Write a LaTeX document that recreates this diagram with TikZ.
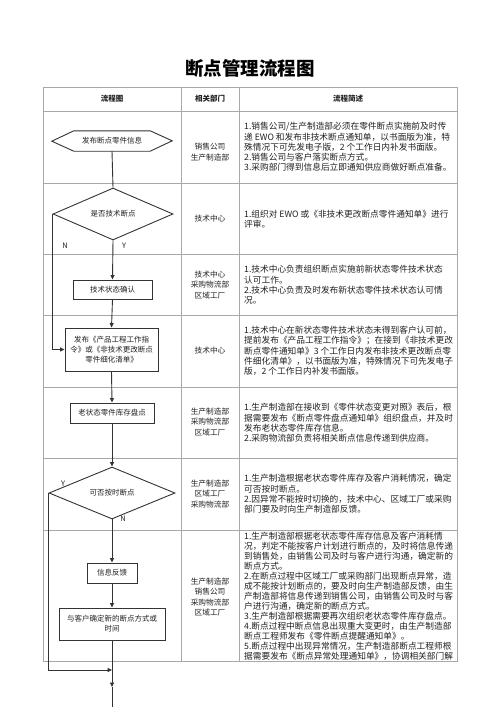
\documentclass[tikz,border=0pt]{standalone}
\usepackage{fontspec}
\setmainfont{Noto Sans CJK SC}
\usetikzlibrary{shapes.geometric,arrows.meta}
\definecolor{tblgray}{HTML}{A8A8A8}
\definecolor{flowc}{HTML}{333333}
\definecolor{txt}{HTML}{222222}
\begin{document}
\begin{tikzpicture}[x=1pt,y=-1pt,
 grid/.style={draw=tblgray,line width=0.8pt},
 flow/.style={draw=flowc,line width=0.9pt},
 arr/.style={flow,-{Triangle[length=4.5pt,width=4pt]}},
 procbox/.style={draw=flowc,line width=0.9pt,rectangle,inner sep=0pt,font=\fontsize{7.5}{10}\selectfont,align=center,text=txt},
 hexlabel/.style={rectangle,inner sep=0pt,font=\fontsize{7.5}{10}\selectfont,align=center,text=txt},
 decision/.style={draw=flowc,line width=0.9pt,diamond,inner sep=0pt,font=\fontsize{7.5}{10}\selectfont,text=txt},
 dept/.style={font=\fontsize{7.7}{10.6}\selectfont,align=center,text=txt,inner sep=0pt},
 desc/.style={font=\fontsize{8.7}{10.3}\selectfont,align=left,anchor=west,inner sep=0pt,text=txt},
 head/.style={font=\bfseries\fontsize{7.5}{9}\selectfont,text=txt,inner sep=0pt},
 yn/.style={font=\fontsize{7.5}{9}\selectfont,text=txt,inner sep=0pt}
]
\useasboundingbox[fill=white] (0,0) rectangle (500,707);

% title
\node[font=\bfseries\fontsize{18.5}{20}\selectfont,text=black] (title) at (250,68) {断点管理流程图};

% table grid
\draw[grid] (43,87) rectangle (457,661);
\foreach \yy in {111,183,254,315,387,458,530} \draw[grid] (43,\yy) -- (457,\yy);
\draw[grid] (181,87) -- (181,661);
\draw[grid] (239,87) -- (239,661);

% header
\node[head] (h1) at (112,99) {流程图};
\node[head] (h2) at (210,99) {相关部门};
\node[head] (h3) at (348,99) {流程简述};

% departments
\node[dept] (dp1) at (210,152) {销售公司\\生产制造部};
\node[dept] (dp2) at (210,219) {技术中心};
\node[dept] (dp3) at (210,285) {技术中心\\采购物流部\\区域工厂};
\node[dept] (dp4) at (210,351) {技术中心};
\node[dept] (dp5) at (210,422) {生产制造部\\采购物流部\\区域工厂};
\node[dept] (dp6) at (210,494) {生产制造部\\区域工厂\\采购物流部};
\node[dept] (dp7) at (210,597) {生产制造部\\销售公司\\采购物流部\\区域工厂};

% descriptions
\node[desc] (ds1) at (244,147) {1.销售公司/生产制造部必须在零件断点实施前及时传\\递 EWO 和发布非技术断点通知单，以书面版为准，特\\殊情况下可先发电子版，2 个工作日内补发书面版。\\2.销售公司与客户落实断点方式。\\3.采购部门得到信息后立即通知供应商做好断点准备。};
\node[desc] (ds2) at (244,219) {1.组织对 EWO 或《非技术更改断点零件通知单》进行\\评审。};
\node[desc] (ds3) at (244,285) {1.技术中心负责组织断点实施前新状态零件技术状态\\认可工作。\\2.技术中心负责及时发布新状态零件技术状态认可情\\况。};
\node[desc] (ds4) at (244,351) {1.技术中心在新状态零件技术状态未得到客户认可前，\\提前发布《产品工程工作指令》；在接到《非技术更改\\断点零件通知单》3 个工作日内发布非技术更改断点零\\件细化清单》，以书面版为准，特殊情况下可先发电子\\版，2 个工作日内补发书面版。};
\node[desc] (ds5) at (244,423) {1.生产制造部在接收到《零件状态变更对照》表后，根\\据需要发布《断点零件盘点通知单》组织盘点，并及时\\发布老状态零件库存信息。\\2.采购物流部负责将相关断点信息传递到供应商。};
\node[desc] (ds6) at (244,494) {1.生产制造根据老状态零件库存及客户消耗情况，确定\\可否按时断点。\\2.因异常不能按时切换的，技术中心、区域工厂或采购\\部门要及时向生产制造部反馈。};
\node[desc,font=\fontsize{8.7}{10.0}\selectfont] (ds7) at (244,596) {1.生产制造部根据老状态零件库存信息及客户消耗情\\况，判定不能按客户计划进行断点的，及时将信息传递\\到销售处，由销售公司及时与客户进行沟通，确定新的\\断点方式。\\2.在断点过程中区域工厂或采购部门出现断点异常，造\\成不能按计划断点的，要及时向生产制造部反馈，由生\\产制造部将信息传递到销售公司，由销售公司及时与客\\户进行沟通，确定新的断点方式。\\3.生产制造部根据需要再次组织老状态零件库存盘点。\\4.断点过程中断点信息出现重大变更时，由生产制造部\\断点工程师发布《零件断点提醒通知单》。\\5.断点过程中出现异常情况，生产制造部断点工程师根\\据需要发布《断点异常处理通知单》，协调相关部门解};

% flowchart
\node[hexlabel,minimum width=76pt,minimum height=20pt] (hex) at (112,141) {发布断点零件信息};
\draw[flow] (hex.north west) -- (hex.north east) -- ++(22,10) -- (hex.south east) -- (hex.south west) -- ++(-22,-10) -- cycle;

\node[decision,minimum width=120pt,minimum height=34pt] (d1) at (113,214) {是否技术断点};
\node[procbox,minimum width=79pt,minimum height=19pt] (b1) at (112.5,289.5) {技术状态确认};
\node[procbox,minimum width=93pt,minimum height=43pt] (b2) at (111.5,349.5) {发布《产品工程工作指\\令》或《非技术更改断点\\零件细化清单》};
\node[procbox,minimum width=84pt,minimum height=20pt] (b3) at (112,413) {老状态零件库存盘点};
\node[decision,minimum width=126pt,minimum height=26pt] (d2) at (112,493) {可否按时断点};
\node[procbox,minimum width=50pt,minimum height=20pt] (b4) at (112,573) {信息反馈};
\node[procbox,minimum width=106pt,minimum height=32pt] (b5) at (112,624) {与客户确定新的断点方式或\\时间};

\node[yn] (n1) at (65,246) {N};
\node[yn] (y1) at (124,246) {Y};
\node[yn] (y2) at (63,484) {Y};
\node[yn] (n2) at (123,519) {N};

\coordinate (join) at (112,670);
\coordinate (tip) at (112,687);
\coordinate (bottom) at (112,707);

\draw[flow] (hex.south) -- (d1.north);
\draw[arr] (d1.south) -- (b1.north);
\draw[arr] (b1.south) -- (b2.north);
\draw[arr] (d1.west) |- (b2.west);
\draw[arr] (b2.south) -- (b3.north);
\draw[arr] (b3.south) -- (d2.north);
\draw[arr] (d2.south) -- (b4.north);
\draw[arr] (b4.south) -- (b5.north);
\draw[arr] (d2.west) |- (join);
\draw[arr] (b5.south) -- (tip);
\draw[flow] (tip) -- (bottom);
\end{tikzpicture}
\end{document}
